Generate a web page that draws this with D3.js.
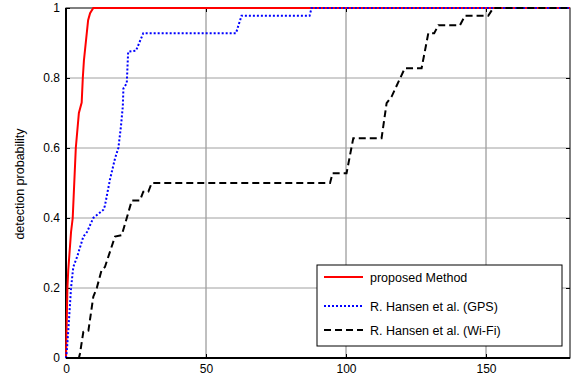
<!DOCTYPE html>
<html>
<head>
<meta charset="utf-8">
<script src="https://cdn.jsdelivr.net/npm/d3@7"></script>
<style>
  body { margin: 0; background: #fff; }
  text { font-family: Arial, "Liberation Sans", sans-serif; fill: #000; }
</style>
</head>
<body>
<div id="chart"></div>
<script>
const xTicks = [0, 50, 100, 150];
const yTicks = [0, 0.2, 0.4, 0.6, 0.8, 1];

const proposed = [[0,0],[0.2,0.08],[0.5,0.2],[0.8,0.25],[1.8,0.36],[2.4,0.4],[3.5,0.6],[4.6,0.7],[5.6,0.73],
  [6.0,0.8],[6.4,0.85],[7.9,0.965],[8.6,0.985],[9.75,1],[180,1]];

const gps = [[0,0],[0.3,0.02],[1,0.1],[1.8,0.2],[2.6,0.26],[4,0.29],[6.2,0.347],[7.5,0.36],[9.75,0.4],
  [13.3,0.423],[13.9,0.435],[15.7,0.51],[17.5,0.57],[18.7,0.6],[19.6,0.66],[20.3,0.72],[20.5,0.77],
  [21.7,0.785],[22.2,0.875],[25,0.878],[27.6,0.928],[60.7,0.928],[62.7,0.978],[87,0.978],[87.7,1],[180,1]];

const wifi = [[0,0],[4.6,0],[5,0.013],[6.2,0.075],[8,0.078],[9.75,0.175],[11,0.2],[12.7,0.251],[13.9,0.26],
  [17.5,0.347],[19.9,0.351],[21.7,0.4],[23.5,0.45],[26.4,0.45],[27.6,0.475],[29.4,0.475],[30.6,0.5],
  [94.3,0.5],[95.2,0.528],[100.2,0.528],[102.6,0.628],[112.7,0.628],[114.5,0.728],[116.3,0.747],
  [121,0.828],[127,0.828],[129.4,0.928],[131.5,0.928],[133,0.951],[140.7,0.951],[142.5,0.978],
  [150.8,0.978],[152.6,1],[180,1]];

const series = [
  { label: "proposed Method", data: proposed, stroke: "#ff0000", dash: null },
  { label: "R. Hansen et al. (GPS)", data: gps, stroke: "#0000ff", dash: "2,2" },
  { label: "R. Hansen et al. (Wi-Fi)", data: wifi, stroke: "#000000", dash: "7,4" }
];

const W = 572, H = 376;
const margin = { top: 8, right: 2, bottom: 18, left: 66 };
const innerW = W - margin.left - margin.right;
const innerH = H - margin.top - margin.bottom;

const svg = d3.select("#chart").append("svg")
  .attr("width", W).attr("height", H);

const g = svg.append("g").attr("transform", `translate(${margin.left},${margin.top})`);

const x = d3.scaleLinear().domain([0, 180]).range([0, innerW]);
const y = d3.scaleLinear().domain([0, 1]).range([innerH, 0]);

// grid
g.append("g").selectAll("line").data(xTicks.slice(1)).join("line")
  .attr("x1", d => x(d)).attr("x2", d => x(d))
  .attr("y1", 0).attr("y2", innerH)
  .attr("stroke", "#808080").attr("stroke-width", 1);
g.append("g").selectAll("line").data(yTicks.slice(1, -1)).join("line")
  .attr("x1", 0).attr("x2", innerW)
  .attr("y1", d => y(d)).attr("y2", d => y(d))
  .attr("stroke", "#a0a0a0").attr("stroke-width", 1);

// axes
const tickLen = 4;
const xAxis = g.append("g").attr("transform", `translate(0,${innerH})`)
  .call(d3.axisBottom(x).tickValues(xTicks).tickSize(-tickLen).tickPadding(6).tickFormat(d3.format("d")));
const yAxis = g.append("g")
  .call(d3.axisLeft(y).tickValues(yTicks).tickSize(-tickLen).tickPadding(6).tickFormat(d => d === 0 || d === 1 ? d : d3.format(".1f")(d)));
g.append("g").attr("transform", `translate(${innerW},0)`)
  .call(d3.axisRight(y).tickValues(yTicks).tickSize(-tickLen).tickFormat(""));
g.append("g")
  .call(d3.axisTop(x).tickValues(xTicks).tickSize(-tickLen).tickFormat(""));

g.selectAll(".domain").remove();
g.selectAll(".tick line").attr("stroke", "#000");
xAxis.selectAll("text").style("font-size", "12px");
yAxis.selectAll("text").style("font-size", "12px");

// box
g.append("rect").attr("x", 0).attr("y", 0).attr("width", innerW).attr("height", innerH)
  .attr("fill", "none").attr("stroke", "#000").attr("stroke-width", 1);
g.append("line").attr("x1", 0).attr("x2", 0).attr("y1", 0).attr("y2", innerH)
  .attr("stroke", "#000").attr("stroke-width", 2);
g.append("line").attr("x1", 0).attr("x2", innerW).attr("y1", innerH).attr("y2", innerH)
  .attr("stroke", "#000").attr("stroke-width", 2);

// lines
const line = d3.line().x(d => x(d[0])).y(d => y(d[1]));
series.forEach(s => {
  g.append("path")
    .attr("d", line(s.data))
    .attr("fill", "none")
    .attr("stroke", s.stroke)
    .attr("stroke-width", 2)
    .attr("stroke-dasharray", s.dash);
});

// y label
svg.append("text")
  .attr("transform", "translate(24,184) rotate(-90)")
  .attr("text-anchor", "middle")
  .style("font-size", "12.5px")
  .text("detection probability");

// legend
const lg = svg.append("g");
lg.append("rect").attr("x", 317).attr("y", 265).attr("width", 245).attr("height", 81)
  .attr("fill", "#fff").attr("stroke", "#000").attr("stroke-width", 1);
const rowY = [277, 306, 330];
series.forEach((s, i) => {
  lg.append("line")
    .attr("x1", 324).attr("x2", 363)
    .attr("y1", rowY[i]).attr("y2", rowY[i])
    .attr("stroke", s.stroke).attr("stroke-width", 2)
    .attr("stroke-dasharray", s.dash);
  lg.append("text")
    .attr("x", 370).attr("y", rowY[i] + 5)
    .style("font-size", "12.5px")
    .text(s.label);
});
</script>
</body>
</html>
